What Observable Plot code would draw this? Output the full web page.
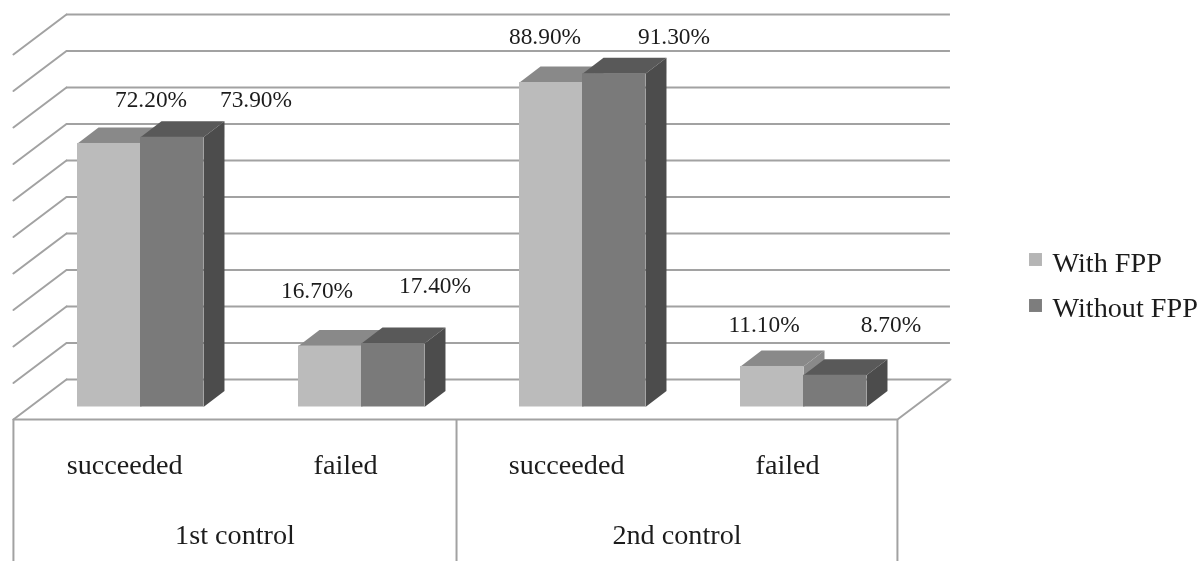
<!DOCTYPE html>
<html>
<head>
<meta charset="utf-8">
<script src="https://cdn.jsdelivr.net/npm/d3@7"></script>
<script src="https://cdn.jsdelivr.net/npm/@observablehq/plot@0.6"></script>
<style>
html,body{margin:0;padding:0;background:#fff;}
svg{display:block;filter:blur(0.4px);}
</style>
</head>
<body>
<div id="chart"></div>
<script>
// Data
const categories = ["succeeded", "failed", "succeeded", "failed"];
const groups = ["1st control", "2nd control"];
const withFPP = [72.2, 16.7, 88.9, 11.1];
const withoutFPP = [73.9, 17.4, 91.3, 8.7];
const seriesNames = ["With FPP", "Without FPP"];
const gridValues = [0, 10, 20, 30, 40, 50, 60, 70, 80, 90, 100];

// Layout, in axis units: x counts category slots, y counts percent
const barW = 0.285;
const depthX = 0.095, depthY = 4.4;      // bar depth
const backX = 0.24, backY = 10.96;       // wall depth
const floorY = -3.42;                    // front floor edge
const floorL = -0.575, floorM = 1.43, floorR = 3.425;
const catShift = -0.072;
const faces = [
  {front: "#bbbbbb", top: "#898989", side: "#898989"},
  {front: "#7a7a7a", top: "#595959", side: "#4c4c4c"}
];
// per-label pixel nudges: [dx, dy] from top of its bar
const labelNudge = [
  [[42, -43.5], [-13, -55.5], [-6, -46], [-8, -42]],
  [[84, -37.3], [42, -58], [60, -37], [56, -51]]
];

const bars = [];
[withFPP, withoutFPP].forEach((vals, s) => vals.forEach((v, c) => {
  bars.push({s, c, v, x0: c + (s - 1) * barW, x1: c + s * barW});
}));
const poly = pts => pts.concat([pts[0]]);

const marks = [];
// walls and floor
marks.push(Plot.ruleY(gridValues, {
  y: d => d + backY + floorY,
  x1: floorL + backX, x2: floorR + backX, stroke: "#a2a2a2", strokeWidth: 2
}));
gridValues.forEach(v => {
  marks.push(Plot.line([[floorL, v + floorY], [floorL + backX, v + floorY + backY]], {
    x: d => d[0], y: d => d[1], stroke: "#a2a2a2", strokeWidth: 2
  }));
});
marks.push(Plot.line([[floorR + backX, floorY + backY], [floorR, floorY]], {
  x: d => d[0], y: d => d[1], stroke: "#a2a2a2", strokeWidth: 2
}));
// table under the chart
marks.push(Plot.ruleY([floorY], {x1: floorL, x2: floorR, stroke: "#a2a2a2", strokeWidth: 2}));
marks.push(Plot.ruleX([floorL, floorM, floorR], {y1: floorY, y2: -43, stroke: "#a2a2a2", strokeWidth: 2}));

// bars, drawn back to front
bars.forEach(b => {
  const f = faces[b.s];
  marks.push(Plot.line(poly([[b.x0, b.v], [b.x1, b.v], [b.x1 + depthX, b.v + depthY], [b.x0 + depthX, b.v + depthY]]),
    {x: d => d[0], y: d => d[1], fill: f.top, stroke: "none"}));
  marks.push(Plot.line(poly([[b.x1, 0], [b.x1 + depthX, depthY], [b.x1 + depthX, b.v + depthY], [b.x1, b.v]]),
    {x: d => d[0], y: d => d[1], fill: f.side, stroke: "none"}));
  marks.push(Plot.rect([b], {x1: "x0", x2: "x1", y1: 0, y2: "v", fill: f.front}));
});

// value labels
bars.forEach(b => {
  const [dx, dy] = labelNudge[b.s][b.c];
  marks.push(Plot.text([b], {
    x: (b.x0 + b.x1) / 2, y: "v", dx, dy,
    text: d => d.v.toFixed(2) + "%", fontSize: 23.4, fill: "#1c1c1c"
  }));
});

// category labels
marks.push(Plot.text(categories, {
  x: (d, i) => i + catShift, y: floorY - 12.4, text: d => d, fontSize: 28.2, fill: "#1c1c1c"
}));
marks.push(Plot.text(groups, {
  x: (d, i) => i ? (floorM + floorR) / 2 : (floorL + floorM) / 2,
  y: floorY - 31.6, text: d => d, fontSize: 28.2, fill: "#1c1c1c"
}));

// legend
seriesNames.forEach((name, i) => {
  marks.push(Plot.dot([name], {
    frameAnchor: "top-left", dx: 1035, dy: 259 + i * 46, symbol: "square", r: 7.3, fill: ["#b5b5b5", "#7d7d7d"][i], stroke: "none"
  }));
  marks.push(Plot.text([name], {
    frameAnchor: "top-left", lineAnchor: "middle", dx: 1052, dy: 262 + i * 45, text: d => d, textAnchor: "start", fontSize: 28.2, fill: "#1c1c1c"
  }));
});

const plot = Plot.plot({
  width: 1201,
  height: 561,
  margin: 0,
  x: {type: "linear", domain: [-140 / 221, 1061 / 221], range: [0, 1201], axis: null},
  y: {type: "linear", domain: [-42.33, 111.37], range: [561, 0], axis: null},
  style: {fontFamily: "'Liberation Serif', serif", background: "#fff"},
  marks
});
document.getElementById("chart").append(plot);
</script>
</body>
</html>
